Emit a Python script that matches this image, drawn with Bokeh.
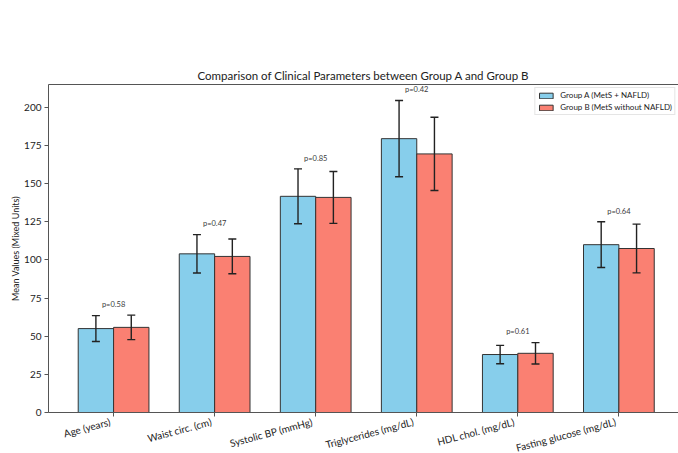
import math
import numpy as np
from bokeh.plotting import figure
from bokeh.models import (ColumnDataSource, Range1d, FixedTicker, LinearAxis, Whisker,
                          TeeHead, Legend, LegendItem)
from bokeh.core.properties import value
from bokeh.embed import file_html
from bokeh.resources import INLINE

categories = ["Age (years)", "Waist circ. (cm)", "Systolic BP (mmHg)",
              "Triglycerides (mg/dL)", "HDL chol. (mg/dL)", "Fasting glucose (mg/dL)"]
mean_a = [55, 104, 141.7, 179.5, 38, 110]
sd_a = [8.5, 12.6, 18, 25, 6, 15]
mean_b = [55.8, 102.3, 141, 169.5, 38.8, 107.5]
sd_b = [8, 11.4, 17, 24, 7, 16]
p_labels = ["p=0.58", "p=0.47", "p=0.85", "p=0.42", "p=0.61", "p=0.64"]
group_names = ["Group A (MetS + NAFLD)", "Group B (MetS without NAFLD)"]
y_ticks = [0, 25, 50, 75, 100, 125, 150, 175, 200]

FONT = "Lato"
BAR_W = 0.35
idx = np.arange(len(categories))

src = ColumnDataSource(dict(
    xa=idx - BAR_W / 2, xb=idx + BAR_W / 2, xc=idx,
    ma=mean_a, mb=mean_b,
    lo_a=np.array(mean_a) - np.array(sd_a), hi_a=np.array(mean_a) + np.array(sd_a),
    lo_b=np.array(mean_b) - np.array(sd_b), hi_b=np.array(mean_b) + np.array(sd_b),
    py=np.maximum(np.array(mean_a) + np.array(sd_a), np.array(mean_b) + np.array(sd_b)) + 7,
    pl=p_labels, cat=categories, zero=np.zeros(len(categories)),
))

p = figure(width=678, height=453, x_range=Range1d(-0.644, 5.59), y_range=Range1d(0, 215),
           output_backend="svg", toolbar_location=None,
           min_border_left=48, min_border_right=0, min_border_top=84, min_border_bottom=41,
           title="Comparison of Clinical Parameters between Group A and Group B")
p.outline_line_color = None
p.xgrid.visible = False
p.ygrid.visible = False
p.title.align = "center"
p.title.text_font = FONT
p.title.text_font_style = "normal"
p.title.text_font_size = "11.5px"
p.title.text_color = "#222222"
p.title.standoff = 6

ra = p.vbar(x="xa", top="ma", width=BAR_W, source=src, fill_color="#87CEEB",
            line_color="#333333", line_width=1)
rb = p.vbar(x="xb", top="mb", width=BAR_W, source=src, fill_color="#FA8072",
            line_color="#333333", line_width=1)

for lo, hi, xs in (("lo_a", "hi_a", "xa"), ("lo_b", "hi_b", "xb")):
    w = Whisker(base=xs, lower=lo, upper=hi, source=src, line_color="#222222", line_width=1.4,
                level="annotation",
                upper_head=TeeHead(size=8, line_color="#222222", line_width=1.4),
                lower_head=TeeHead(size=8, line_color="#222222", line_width=1.4))
    p.add_layout(w)

p.text(x="xc", y="py", text="pl", source=src, text_align="center", text_baseline="middle",
       text_font=value(FONT), text_font_size="7.5px", text_color="#3a3a3a")

# axes
AX_COL = "#555555"
xa = p.xaxis[0]
xa.ticker = FixedTicker(ticks=list(idx))
xa.major_label_overrides = {int(i): "" for i in idx}
xa.major_label_text_font_size = "1px"
xa.axis_line_color = AX_COL
xa.major_tick_line_color = AX_COL
xa.major_tick_out = 4
xa.major_tick_in = 0
xa.minor_tick_line_color = None
xa.major_label_standoff = 0

# category tick labels, drawn above the clipping level
p.text(x="xc", y="zero", text="cat", source=src, angle=15, angle_units="deg",
       x_offset=-5, y_offset=3, text_align="right", text_baseline="top",
       text_font=value(FONT), text_font_size="10px", text_color="#222222", level="overlay")

ya = p.yaxis[0]
ya.ticker = FixedTicker(ticks=y_ticks)
ya.axis_label = "Mean Values (Mixed Units)"
ya.axis_label_text_font = FONT
ya.axis_label_text_font_size = "9px"
ya.axis_label_text_font_style = "normal"
ya.axis_label_text_color = "#222222"
ya.axis_label_standoff = 0
ya.major_label_text_font = FONT
ya.major_label_text_font_size = "10px"
ya.major_label_text_color = "#222222"
ya.axis_line_color = AX_COL
ya.major_tick_line_color = AX_COL
ya.major_tick_out = 4
ya.major_tick_in = 0
ya.minor_tick_line_color = None
ya.major_label_standoff = 3

top = LinearAxis(ticker=FixedTicker(ticks=[]), major_label_text_font_size="0px",
                 axis_line_color=AX_COL, major_tick_line_color=None, minor_tick_line_color=None)
p.add_layout(top, "above")

legend = Legend(items=[LegendItem(label=group_names[0], renderers=[ra]),
                       LegendItem(label=group_names[1], renderers=[rb])],
                location="top_right", margin=3, padding=2, spacing=2,
                glyph_width=17, glyph_height=7, label_standoff=6,
                label_text_font=FONT, label_text_font_size="8px", label_text_color="#222222",
                label_height=7, border_line_color="#cccccc", background_fill_alpha=0.9)
p.add_layout(legend)

open("out.html", "w").write(file_html(p, INLINE))
